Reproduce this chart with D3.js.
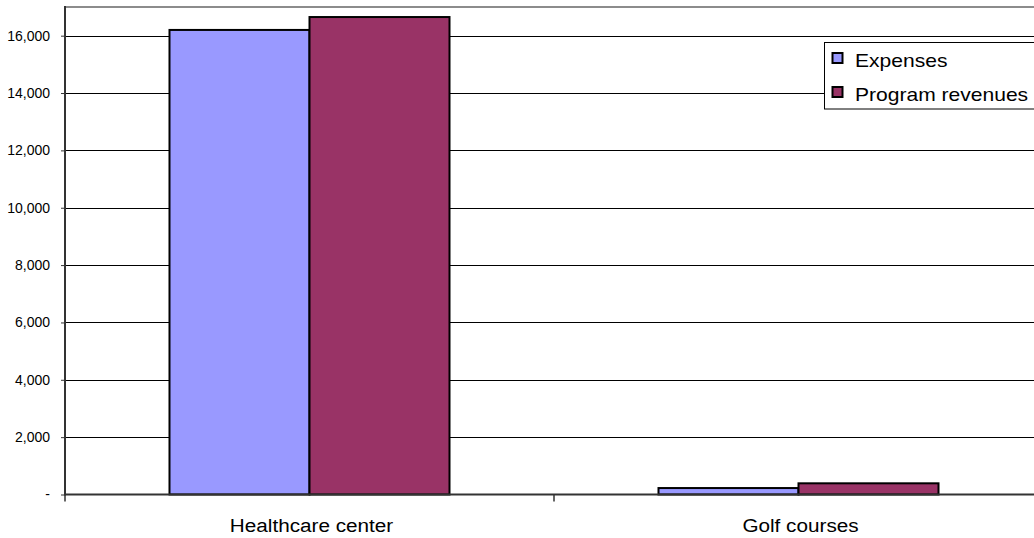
<!DOCTYPE html>
<html>
<head>
<meta charset="utf-8">
<script src="https://cdn.jsdelivr.net/npm/d3@7"></script>
<style>
html,body{margin:0;padding:0;background:#fff;}
svg{display:block;font-family:"Liberation Sans",Arial,sans-serif;}
</style>
</head>
<body>
<svg id="chart" width="1034" height="538"></svg>
<script>
const categories = ["Healthcare center", "Golf courses"];
const seriesNames = ["Expenses", "Program revenues"];
const expenses = [16200, 225];
const programRevenues = [16650, 390];
const yTicks = [0, 2000, 4000, 6000, 8000, 10000, 12000, 14000, 16000];
const colors = ["#9999FF", "#993366"];

const svg = d3.select("#chart");
const pLeft = 65, pTop = 7, pRight = 1043, pBottom = 494.5;

const y = d3.scaleLinear().domain([0, 17000]).range([pBottom, pTop]);
const x0 = d3.scaleBand().domain(categories).range([pLeft, pRight]).padding(0);
const bw = x0.bandwidth();
const x1 = d3.scaleBand().domain(seriesNames)
  .range([bw * 0.2137, bw * 0.7863]).padding(0);

// top border of plot area
svg.append("line").attr("x1", pLeft).attr("x2", 1034).attr("y1", pTop).attr("y2", pTop)
  .attr("stroke", "#8c8c8c").attr("stroke-width", 2);

// gridlines
svg.append("g").selectAll("line").data(yTicks.filter(d => d > 0)).join("line")
  .attr("x1", pLeft).attr("x2", 1034)
  .attr("y1", d => Math.round(y(d)) + 0.5).attr("y2", d => Math.round(y(d)) + 0.5)
  .attr("stroke", "#000").attr("stroke-width", 1);

// y axis
const yAxis = d3.axisLeft(y).tickValues(yTicks).tickSize(4).tickPadding(11)
  .tickFormat(d => d === 0 ? "-" : d3.format(",")(d));
const gy = svg.append("g").attr("transform", `translate(${pLeft},0)`).call(yAxis);
gy.select(".domain").remove();
gy.selectAll(".tick line").attr("stroke", "#333").attr("stroke-width", 1);
gy.selectAll(".tick text").attr("font-size", 14).attr("fill", "#000")
  .attr("font-family", "Liberation Sans, Arial, sans-serif");

// bars
const rows = categories.map((c, i) => ({cat: c, vals: [expenses[i], programRevenues[i]]}));
const g = svg.append("g");
rows.forEach(r => {
  r.vals.forEach((v, j) => {
    g.append("rect")
      .attr("x", x0(r.cat) + x1(seriesNames[j]))
      .attr("y", y(v))
      .attr("width", x1.bandwidth())
      .attr("height", pBottom - y(v))
      .attr("fill", colors[j])
      .attr("stroke", "#000").attr("stroke-width", 2);
  });
});

// left axis line
svg.append("line").attr("x1", pLeft).attr("x2", pLeft).attr("y1", pTop - 1).attr("y2", pBottom + 1)
  .attr("stroke", "#333").attr("stroke-width", 2);

// x axis
const xAxis = d3.axisBottom(x0).tickSize(0).tickPadding(0);
const gx = svg.append("g").attr("transform", `translate(2,${pBottom})`).call(xAxis);
gx.select(".domain").remove();
gx.selectAll(".tick text").attr("font-size", 19).attr("fill", "#000")
  .attr("dy", null).attr("y", 0)
  .attr("transform", "translate(0,37) scale(1.09,1)")
  .attr("font-family", "Liberation Sans, Arial, sans-serif");
svg.append("line").attr("x1", pLeft).attr("x2", 1034).attr("y1", pBottom).attr("y2", pBottom)
  .attr("stroke", "#333").attr("stroke-width", 2);
// category separator ticks
svg.append("g").selectAll("line").data(categories).join("line")
  .attr("x1", d => x0(d)).attr("x2", d => x0(d))
  .attr("y1", pBottom).attr("y2", pBottom + 7)
  .attr("stroke", "#333").attr("stroke-width", 1.5);

// legend
const lg = svg.append("g");
lg.append("rect").attr("x", 824.5).attr("y", 42.5).attr("width", 240).attr("height", 66.5)
  .attr("fill", "#fff").attr("stroke", "#000").attr("stroke-width", 1);
seriesNames.forEach((s, i) => {
  const yy = 53 + i * 34;
  lg.append("rect").attr("x", 832.5).attr("y", yy).attr("width", 10).attr("height", 10)
    .attr("fill", colors[i]).attr("stroke", "#000").attr("stroke-width", 2);
  lg.append("g").attr("transform", `translate(855,${yy + 13.5})`)
    .append("text").attr("font-size", 18).attr("fill", "#000")
    .attr("transform", "scale(1.17,1)").text(s);
});
</script>
</body>
</html>
